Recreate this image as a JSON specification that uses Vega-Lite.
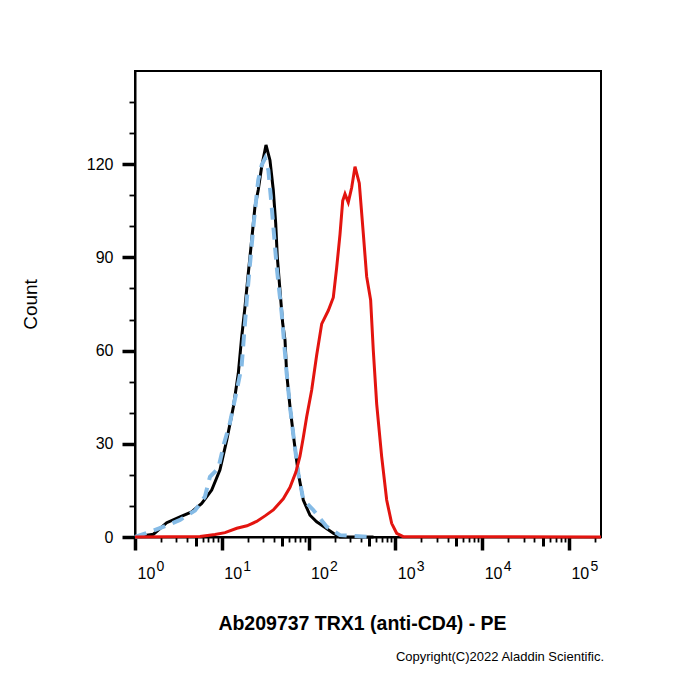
{
  "$schema": "https://vega.github.io/schema/vega-lite/v6.json",
  "width": 466,
  "height": 466,
  "autosize": {"type": "none"},
  "padding": {"left": 135, "top": 71, "right": 99, "bottom": 163},
  "background": "white",
  "config": {
    "font": "Liberation Sans",
    "view": {"stroke": "black", "strokeWidth": 2},
    "axis": {"grid": false, "domainColor": "black", "domainWidth": 2, "tickColor": "black", "labelColor": "black", "titleColor": "black", "labelFont": "Liberation Sans", "titleFont": "Liberation Sans"}
  },
  "title": {"text": "Copyright(C)2022 Aladdin Scientific.", "orient": "bottom", "anchor": "end", "fontSize": 13, "fontWeight": "normal", "font": "Liberation Sans", "color": "black", "offset": 18, "dx": -3},
  "data": {"values": [
    {"s": "black", "x": 1.03, "y": 0.1},
    {"s": "black", "x": 1.63, "y": 0.9},
    {"s": "black", "x": 2.32, "y": 4.6},
    {"s": "black", "x": 3.3, "y": 6.5},
    {"s": "black", "x": 4.5, "y": 8.1},
    {"s": "black", "x": 5.87, "y": 10.8},
    {"s": "black", "x": 7.65, "y": 15.1},
    {"s": "black", "x": 9.53, "y": 21.6},
    {"s": "black", "x": 11.4, "y": 31.2},
    {"s": "black", "x": 13.6, "y": 41.9},
    {"s": "black", "x": 15.5, "y": 52.7},
    {"s": "black", "x": 16.9, "y": 64.0},
    {"s": "black", "x": 18.5, "y": 74.1},
    {"s": "black", "x": 20.2, "y": 84.9},
    {"s": "black", "x": 22.1, "y": 95.6},
    {"s": "black", "x": 24.1, "y": 106.3},
    {"s": "black", "x": 26.3, "y": 111.7},
    {"s": "black", "x": 28.8, "y": 119.2},
    {"s": "black", "x": 32.3, "y": 126.2},
    {"s": "black", "x": 35.9, "y": 121.3},
    {"s": "black", "x": 39.2, "y": 111.7},
    {"s": "black", "x": 41.8, "y": 101.0},
    {"s": "black", "x": 43.6, "y": 90.2},
    {"s": "black", "x": 46.8, "y": 79.5},
    {"s": "black", "x": 50.3, "y": 68.8},
    {"s": "black", "x": 53.5, "y": 63.4},
    {"s": "black", "x": 55.9, "y": 52.7},
    {"s": "black", "x": 61.1, "y": 41.9},
    {"s": "black", "x": 67.9, "y": 31.2},
    {"s": "black", "x": 76.1, "y": 20.5},
    {"s": "black", "x": 86.9, "y": 11.9},
    {"s": "black", "x": 103.8, "y": 7.0},
    {"s": "black", "x": 123.9, "y": 4.9},
    {"s": "black", "x": 135.3, "y": 4.2},
    {"s": "black", "x": 192.7, "y": 1.2},
    {"s": "black", "x": 230, "y": 0},
    {"s": "black", "x": 560, "y": 0},
    {"s": "blue", "x": 1, "y": 0},
    {"s": "blue", "x": 1.49, "y": 1.7},
    {"s": "blue", "x": 2.22, "y": 3.5},
    {"s": "blue", "x": 3.3, "y": 5.5},
    {"s": "blue", "x": 3.77, "y": 6.5},
    {"s": "blue", "x": 4.91, "y": 8.5},
    {"s": "blue", "x": 6.4, "y": 13.0},
    {"s": "blue", "x": 7.31, "y": 19.4},
    {"s": "blue", "x": 9.12, "y": 22.1},
    {"s": "blue", "x": 10.6, "y": 30.0},
    {"s": "blue", "x": 12.4, "y": 36.7},
    {"s": "blue", "x": 15.5, "y": 49.6},
    {"s": "blue", "x": 16.9, "y": 54.8},
    {"s": "blue", "x": 19.4, "y": 76.3},
    {"s": "blue", "x": 23.1, "y": 99.9},
    {"s": "blue", "x": 26.3, "y": 114.9},
    {"s": "blue", "x": 28.8, "y": 119.7},
    {"s": "blue", "x": 31.5, "y": 121.9},
    {"s": "blue", "x": 34.4, "y": 118.1},
    {"s": "blue", "x": 37.6, "y": 106.3},
    {"s": "blue", "x": 42.9, "y": 87.0},
    {"s": "blue", "x": 49.0, "y": 72.0},
    {"s": "blue", "x": 55.9, "y": 52.7},
    {"s": "blue", "x": 61.1, "y": 41.9},
    {"s": "blue", "x": 67.9, "y": 31.2},
    {"s": "blue", "x": 76.1, "y": 20.5},
    {"s": "blue", "x": 86.9, "y": 12.0},
    {"s": "blue", "x": 113.3, "y": 8.7},
    {"s": "blue", "x": 161.6, "y": 3.3},
    {"s": "blue", "x": 230, "y": 0.6},
    {"s": "blue", "x": 552, "y": 0},
    {"s": "red", "x": 1, "y": 0},
    {"s": "red", "x": 5.61, "y": 0.2},
    {"s": "red", "x": 8.35, "y": 0.8},
    {"s": "red", "x": 10.9, "y": 1.4},
    {"s": "red", "x": 14.9, "y": 2.8},
    {"s": "red", "x": 19.5, "y": 3.6},
    {"s": "red", "x": 25.2, "y": 5.0},
    {"s": "red", "x": 31.5, "y": 6.8},
    {"s": "red", "x": 39.2, "y": 8.7},
    {"s": "red", "x": 51.1, "y": 12.3},
    {"s": "red", "x": 61.1, "y": 16.0},
    {"s": "red", "x": 71.6, "y": 21.0},
    {"s": "red", "x": 79.6, "y": 26.0},
    {"s": "red", "x": 86.9, "y": 32.0},
    {"s": "red", "x": 95.1, "y": 38.7},
    {"s": "red", "x": 108.6, "y": 47.3},
    {"s": "red", "x": 123.9, "y": 58.5},
    {"s": "red", "x": 141.6, "y": 68.6},
    {"s": "red", "x": 168.7, "y": 72.9},
    {"s": "red", "x": 192.7, "y": 77.1},
    {"s": "red", "x": 210.7, "y": 86.7},
    {"s": "red", "x": 230.1, "y": 97.4},
    {"s": "red", "x": 247.3, "y": 108.2},
    {"s": "red", "x": 262.7, "y": 110.4},
    {"s": "red", "x": 286.6, "y": 107.7},
    {"s": "red", "x": 313.9, "y": 112.5},
    {"s": "red", "x": 342.6, "y": 119.2},
    {"s": "red", "x": 383.9, "y": 113.9},
    {"s": "red", "x": 426.7, "y": 97.8},
    {"s": "red", "x": 466.9, "y": 83.8},
    {"s": "red", "x": 518.7, "y": 76.3},
    {"s": "red", "x": 556.3, "y": 60.2},
    {"s": "red", "x": 609.3, "y": 42.8},
    {"s": "red", "x": 695.3, "y": 25.9},
    {"s": "red", "x": 794, "y": 11.9},
    {"s": "red", "x": 906, "y": 4.4},
    {"s": "red", "x": 1035, "y": 1.2},
    {"s": "red", "x": 1233, "y": 0.1},
    {"s": "red", "x": 234000, "y": 0}
  ]},
  "resolve": {"axis": {"x": "independent", "y": "independent"}},
  "layer": [
    {
      "transform": [{"filter": "datum.s === 'black'"}],
      "mark": {"type": "line", "color": "black", "strokeWidth": 3, "strokeJoin": "miter"},
      "encoding": {
        "x": {"field": "x", "type": "quantitative",
          "scale": {"type": "log", "domain": [1, 234000], "nice": false},
          "axis": {
            "orient": "bottom",
            "values": [1,2,3,4,5,6,7,8,9,10,20,30,40,50,60,70,80,90,100,200,300,400,500,600,700,800,900,1000,2000,3000,4000,5000,6000,7000,8000,9000,10000,20000,30000,40000,50000,60000,70000,80000,90000,100000,200000],
            "labelExpr": "indexof([1,10,100,1000,10000,100000], datum.value) >= 0 ? '10' : ''",
            "labelAlign": "left",
            "labelBaseline": "alphabetic",
            "labelFontSize": 16,
            "labelPadding": 28,
            "labelOffset": 2,
            "labelOverlap": false,
            "tickSize": {"condition": [{"test": "indexof([1,10,100,1000,10000,100000], datum.value) >= 0", "value": 13}, {"test": "indexof([5,50,500,5000,50000], datum.value) >= 0", "value": 9}], "value": 5},
            "tickWidth": {"condition": [{"test": "indexof([1,10,100,1000,10000,100000], datum.value) >= 0", "value": 3.5}, {"test": "indexof([5,50,500,5000,50000], datum.value) >= 0", "value": 3}], "value": 1.8},
            "title": "Ab209737 TRX1 (anti-CD4) - PE",
            "titleFontSize": 19.5,
            "titleFontWeight": "bold",
            "titlePadding": 33,
            "titleX": 227
          }
        },
        "y": {"field": "y", "type": "quantitative",
          "scale": {"domain": [0, 150], "nice": false, "zero": true},
          "axis": {
            "orient": "left",
            "values": [0,10,20,30,40,50,60,70,80,90,100,110,120,130,140],
            "labelExpr": "datum.value % 30 === 0 ? datum.label : ''",
            "labelFontSize": 16,
            "labelPadding": 9,
            "labelBaseline": "middle",
            "labelOverlap": false,
            "tickSize": {"condition": {"test": "datum.value % 30 === 0", "value": 13}, "value": 6},
            "tickWidth": {"condition": {"test": "datum.value % 30 === 0", "value": 3.5}, "value": 1.8},
            "title": "Count",
            "titleFontSize": 19,
            "titleFontWeight": "normal",
            "titlePadding": 46
          }
        }
      }
    },
    {
      "transform": [{"filter": "datum.s === 'blue'"}],
      "mark": {"type": "line", "color": "#85bbe6", "strokeWidth": 4, "strokeDash": [12, 8]},
      "encoding": {
        "x": {"field": "x", "type": "quantitative",
          "scale": {"type": "log", "domain": [1, 234000], "nice": false},
          "axis": {
            "orient": "bottom",
            "values": [1, 10, 100, 1000, 10000, 100000],
            "labelExpr": "'' + round(log(datum.value) / LN10)",
            "labelAlign": "left",
            "labelBaseline": "alphabetic",
            "labelFontSize": 14,
            "labelPadding": 33,
            "labelOffset": 21,
            "labelOverlap": false,
            "ticks": false,
            "domain": false,
            "title": null
          }
        },
        "y": {"field": "y", "type": "quantitative", "axis": null}
      }
    },
    {
      "transform": [{"filter": "datum.s === 'red'"}],
      "mark": {"type": "line", "color": "#e3140f", "strokeWidth": 3},
      "encoding": {
        "x": {"field": "x", "type": "quantitative",
          "scale": {"type": "log", "domain": [1, 234000], "nice": false},
          "axis": null
        },
        "y": {"field": "y", "type": "quantitative", "axis": null}
      }
    }
  ]
}
